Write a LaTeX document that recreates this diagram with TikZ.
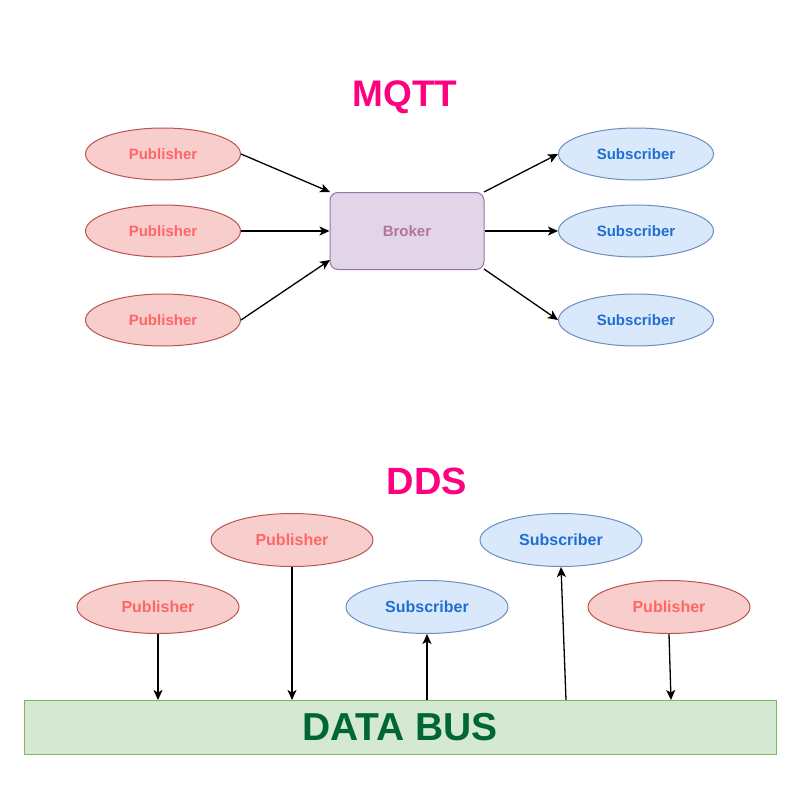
\documentclass[tikz,border=0pt]{standalone}
\usepackage{fontspec}
\setmainfont{Liberation Sans}
\usetikzlibrary{shapes.geometric,arrows.meta}
\definecolor{pubfill}{HTML}{F8CECC}
\definecolor{pubdraw}{HTML}{B85450}
\definecolor{pubtext}{HTML}{FF6666}
\definecolor{subfill}{HTML}{DAE8FC}
\definecolor{subdraw}{HTML}{6C8EBF}
\definecolor{subtext}{HTML}{1F6FD0}
\definecolor{brkfill}{HTML}{E1D5E7}
\definecolor{brkdraw}{HTML}{9673A6}
\definecolor{brktext}{HTML}{B5739D}
\definecolor{busfill}{HTML}{D5E8D4}
\definecolor{busdraw}{HTML}{82B366}
\definecolor{bustext}{HTML}{006633}
\definecolor{titlecol}{HTML}{FF0080}
\tikzset{
  pub/.style={ellipse,draw=pubdraw,fill=pubfill,line width=1pt,inner sep=0pt,
    minimum width=155pt,minimum height=52pt,text=pubtext,
    font=\fontsize{15pt}{18pt}\selectfont\bfseries},
  sub/.style={ellipse,draw=subdraw,fill=subfill,line width=1pt,inner sep=0pt,
    minimum width=155pt,minimum height=52pt,text=subtext,
    font=\fontsize{15pt}{18pt}\selectfont\bfseries},
  dpub/.style={pub,minimum width=162pt,minimum height=53pt,font=\fontsize{16pt}{19pt}\selectfont\bfseries},
  dsub/.style={sub,minimum width=162pt,minimum height=53pt,font=\fontsize{16pt}{19pt}\selectfont\bfseries},
  title/.style={text=titlecol,font=\fontsize{37pt}{40pt}\selectfont\bfseries,inner sep=0pt},
  conn/.style={draw=black,line width=1.3pt,-{Stealth[length=10pt,width=9pt,inset=2.5pt]}},
}
\begin{document}
\begin{tikzpicture}[x=1pt,y=-1pt]
\useasboundingbox (0,0) rectangle (800,800);
% MQTT
\node[title] (mqtt) at (405,97) {MQTT};
\node[pub] (p1) at (163,154) {Publisher};
\node[pub] (p2) at (163,231) {Publisher};
\node[pub] (p3) at (163,320) {Publisher};
\node[draw=brkdraw,fill=brkfill,line width=1pt,rounded corners=8pt,
  minimum width=154pt,minimum height=77pt,inner sep=0pt,text=brktext,
  font=\fontsize{15pt}{18pt}\selectfont\bfseries] (broker) at (407,231) {Broker};
\node[sub] (s1) at (636,154) {Subscriber};
\node[sub] (s2) at (636,231) {Subscriber};
\node[sub] (s3) at (636,320) {Subscriber};
\coordinate (bin1) at (330,192);
\coordinate (bin3) at (330,260);
\coordinate (bout1) at (484,192);
\coordinate (bout3) at (484,269);
\draw[conn] (p1.east) -- (bin1);
\draw[conn] (p2.east) -- (broker.west);
\draw[conn] (p3.east) -- (bin3);
\draw[conn] (bout1) -- (s1.west);
\draw[conn] (broker.east) -- (s2.west);
\draw[conn] (bout3) -- (s3.west);
% DDS
\node[title,font=\fontsize{38pt}{42pt}\selectfont\bfseries] (dds) at (427,481) {DDS};
\node[dpub] (da) at (158,607) {Publisher};
\node[dpub] (db) at (292,540) {Publisher};
\node[dsub] (dc) at (427,607) {Subscriber};
\node[dsub] (dd) at (561,540) {Subscriber};
\node[dpub] (de) at (669,607) {Publisher};
\node[draw=busdraw,fill=busfill,line width=1pt,minimum width=752pt,minimum height=54pt,
  inner sep=0pt,text=bustext,font=\fontsize{39pt}{42pt}\selectfont\bfseries] (bus) at (400,727) {DATA BUS};
\coordinate (ba) at (158,700);
\coordinate (bb) at (292,700);
\coordinate (bc) at (427,700);
\coordinate (bd) at (566,700);
\coordinate (be) at (671,700);
\draw[conn] (da.south) -- (ba);
\draw[conn] (db.south) -- (bb);
\draw[conn] (bc) -- (dc.south);
\draw[conn] (bd) -- (dd.south);
\draw[conn] (de.south) -- (be);
\end{tikzpicture}
\end{document}
